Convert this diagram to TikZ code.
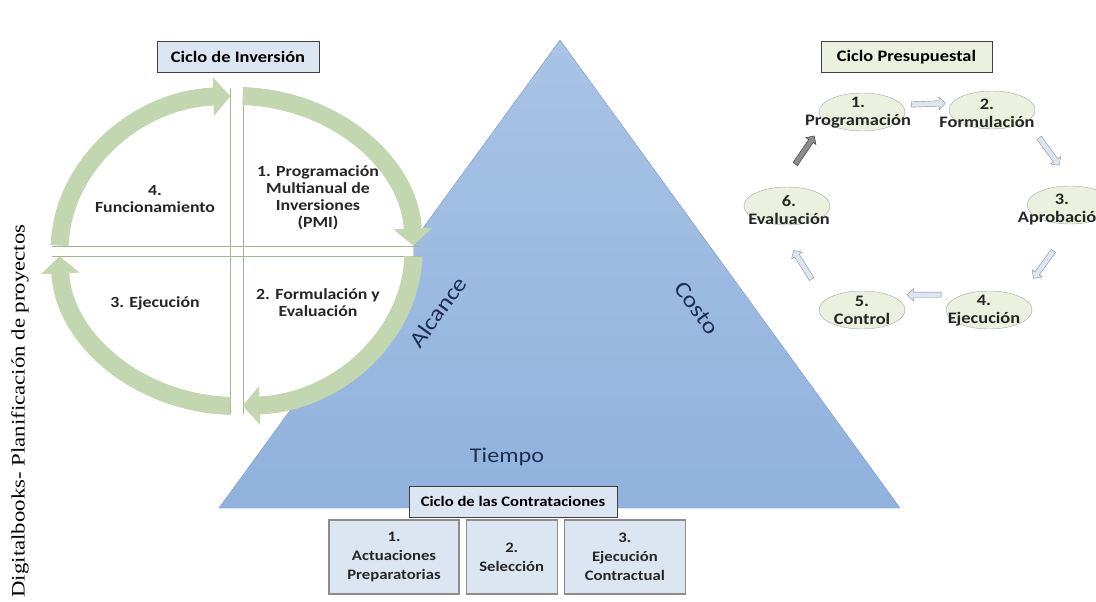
\documentclass[tikz,border=0pt]{standalone}
\usepackage{fontspec}
\setmainfont{Carlito}[FakeStretch=1.15]
\newfontfamily\margenfont{Liberation Serif}[FakeStretch=1.2]
\usepackage{tikz}
\usetikzlibrary{shapes.geometric,shapes.arrows,arrows.meta}
\usetikzlibrary{positioning,calc}
\usepackage{xcolor}
\definecolor{verdeAnillo}{RGB}{194,214,176}
\definecolor{verdeLinea}{RGB}{160,182,140}
\definecolor{verdeClaro}{RGB}{235,241,222}
\definecolor{azulCaja}{RGB}{220,230,242}
\definecolor{azulArriba}{RGB}{168,195,229}
\definecolor{azulAbajo}{RGB}{145,178,222}
\definecolor{azulBorde}{RGB}{120,150,196}
\definecolor{azulTexto}{RGB}{30,45,80}
\tikzstyle{titulo}=[
  draw=black!75,thick,font=\fontsize{16}{18}\selectfont\bfseries,minimum height=31pt
]
\tikzstyle{cuadro}=[
  align=center,font=\fontsize{15.5}{17}\selectfont\bfseries,text=black!85
]
\tikzstyle{paso}=[
  align=center,font=\fontsize{16}{18}\selectfont\bfseries,text=black!85
]

\begin{document}
\begin{tikzpicture}[
    x=1pt, y=-1pt,
    lado/.style={font=\fontsize{22.5}{24}\selectfont, text=azulTexto},
    anillo/.style={line width=18pt, draw=verdeAnillo, -{Triangle[width=38pt,length=17pt]}},
    divisor/.style={draw=verdeLinea, line width=0.8pt},
    elipse/.style={ellipse, draw=black!35, fill=verdeClaro, minimum width=86pt, minimum height=38pt, inner sep=0pt},
    flecha/.style={single arrow, draw=black!45, fill=azulCaja, minimum height=34pt, inner sep=2.5pt,
      single arrow head extend=3.5pt, allow upside down},
    contrato/.style={draw=black!45, line width=1.2pt, fill=azulCaja, align=center, minimum height=74pt,
      font=\fontsize{14.5}{19}\selectfont\bfseries, text=black!85},
    ]
    \useasboundingbox (0,0) rectangle (1096,602);

    %Triangle
    \draw[azulBorde, top color=azulArriba, bottom color=azulAbajo] (219,508) -- (560,40) -- (900,508) -- cycle;
    \node[lado, rotate=54]  (alcance) at (438,312) {Alcance};
    \node[lado, rotate=-54] (costo)   at (697,308) {Costo};
    \node[lado, font=\fontsize{21}{24}\selectfont] (tiempo) at (507,457) {Tiempo};

    %Ciclo de inversion
    \coordinate (ci) at (236.5,251);
    \fill[white] (ci) ellipse [x radius=177, y radius=155];
    \draw[divisor] (52,246) -- (421,246);
    \draw[divisor] (52,256) -- (421,256);
    \draw[divisor] (230,88) -- (230,414);
    \draw[divisor] (243,88) -- (243,414);
    \draw[anillo] ($(ci)+(182:177 and 155)$) arc[start angle=182, end angle=268, x radius=177, y radius=155];
    \draw[anillo] ($(ci)+(272:177 and 155)$) arc[start angle=272, end angle=358, x radius=177, y radius=155];
    \draw[anillo] ($(ci)+(2:177 and 155)$)   arc[start angle=2,   end angle=88,  x radius=177, y radius=155];
    \draw[anillo] ($(ci)+(92:177 and 155)$)  arc[start angle=92,  end angle=178, x radius=177, y radius=155];

    \node[titulo, fill=azulCaja, minimum width=162pt] (inversion) at (238,56.5) {Ciclo de Inversi\'on};
    \node[cuadro] (pmi)     at (318,198) {1. Programaci\'on\\Multianual de\\Inversiones\\(PMI)};
    \node[cuadro] (formeva) at (318,303) {2. Formulaci\'on y\\Evaluaci\'on};
    \node[cuadro] (ejec)    at (155,303) {3. Ejecuci\'on};
    \node[cuadro] (func)    at (155,199) {4.\\Funcionamiento};

    %Ciclo presupuestal
    \node[titulo, fill=verdeClaro, minimum width=171pt] (presupuestal) at (906.5,57) {Ciclo Presupuestal};
    \node[elipse] (p1) at (862,112) {};
    \node[elipse] (p2) at (992,110) {};
    \node[elipse] (p3) at (1070,205) {};
    \node[elipse] (p4) at (989,310) {};
    \node[elipse] (p5) at (862,310) {};
    \node[elipse] (p6) at (787,206) {};
    \node[paso] (t1) at (858,113) {1.\\Programaci\'on};
    \node[paso] (t2) at (987,113) {2.\\Formulaci\'on};
    \node[paso] (t3) at (1062,210) {3.\\Aprobaci\'on};
    \node[paso] (t4) at (984,311) {4.\\Ejecuci\'on};
    \node[paso] (t5) at (862,310) {5.\\Control};
    \node[paso] (t6) at (789,210) {6.\\Evaluaci\'on};

    %Arrows
    \path (p1.10) -- node[flecha, sloped] (f12) {} (p2.170);
    \path (p2) to[bend left=22] node[flecha, sloped] (f23) {} (p3);
    \path (p3) to[bend left=18] node[flecha, sloped] (f34) {} (p4);
    \path (p4.150) -- node[flecha, sloped] (f45) {} (p5.30);
    \path (p5) to[bend left=26] node[flecha, sloped] (f56) {} (p6);
    \path (p6) to[bend left=26] node[flecha, sloped, fill=black!45, draw=black!80] (f61) {} (p1);

    %Ciclo de las contrataciones
    \node[contrato, minimum width=130pt] (c1) at (394,557) {1.\\Actuaciones\\Preparatorias};
    \node[contrato, minimum width=91pt]  (c2) [right=6pt of c1] {2.\\Selecci\'on};
    \node[contrato, minimum width=121pt] (c3) [right=6pt of c2] {3.\\Ejecuci\'on\\Contractual};
    \node[titulo, fill=azulCaja, minimum width=208pt, font=\fontsize{14.5}{17}\selectfont\bfseries] (contrataciones) at (513,501.5) {Ciclo de las Contrataciones};

    %Side text
    \node[rotate=90, font=\margenfont\fontsize{19}{22}\selectfont] (pie) at (20,411) {Digitalbooks- Planificaci\'on de proyectos};
\end{tikzpicture}
\end{document}
